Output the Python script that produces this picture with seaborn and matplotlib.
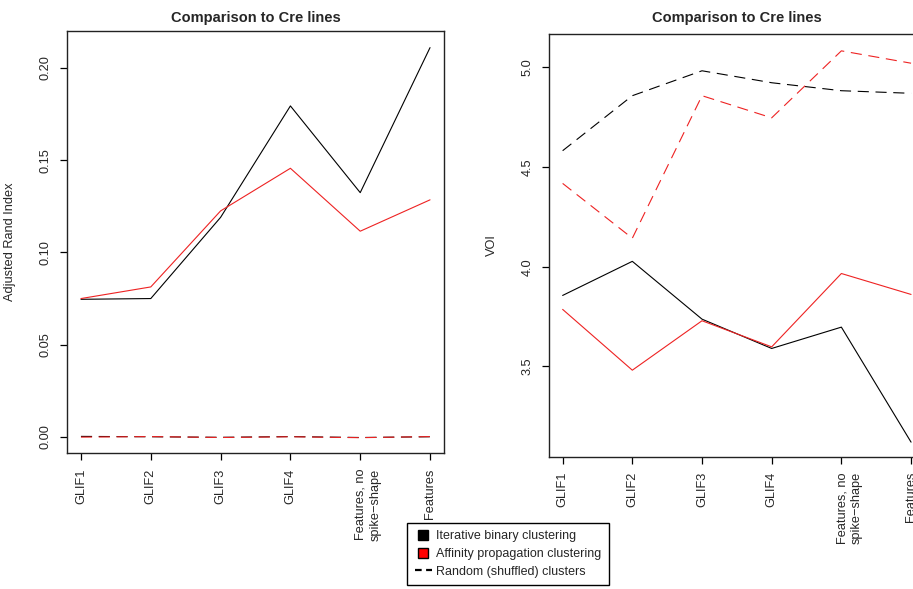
import numpy as np
import pandas as pd
import matplotlib
matplotlib.use("Agg")
import matplotlib.pyplot as plt
import matplotlib.transforms as mtransforms
from matplotlib.lines import Line2D
import seaborn as sns

# --- Data ---
categories = ["GLIF1", "GLIF2", "GLIF3", "GLIF4", "Features, no\nspike\u2212shape", "Features"]

ari_binary = [0.0746, 0.0750, 0.1190, 0.1794, 0.1324, 0.2110]
ari_affinity = [0.0750, 0.0813, 0.1225, 0.1456, 0.1115, 0.1285]
ari_binary_shuffled = [0.0003, 0.0001, -0.0002, 0.0002, -0.0003, 0.0001]
ari_affinity_shuffled = [-0.0001, 0.0002, -0.0003, 0.0001, -0.0004, 0.0002]

voi_binary = [3.856, 4.027, 3.737, 3.590, 3.697, 3.120]
voi_affinity = [3.786, 3.481, 3.729, 3.598, 3.966, 3.861]
voi_binary_shuffled = [4.582, 4.858, 4.983, 4.923, 4.883, 4.870]
voi_affinity_shuffled = [4.418, 4.143, 4.858, 4.747, 5.083, 5.021]

methods = ["Iterative binary clustering", "Affinity propagation clustering"]
legend_labels = methods + ["Random (shuffled) clusters"]


def long_frame(binary, affinity, binary_sh, affinity_sh):
    pos = np.arange(1, len(categories) + 1)
    parts = []
    for method, kind, vals in [
        (methods[0], "real", binary),
        (methods[1], "real", affinity),
        (methods[0], "shuffled", binary_sh),
        (methods[1], "shuffled", affinity_sh),
    ]:
        parts.append(pd.DataFrame({"pos": pos, "value": vals, "method": method,
                                   "kind": kind, "run": method + kind}))
    return pd.concat(parts, ignore_index=True)


ari_df = long_frame(ari_binary, ari_affinity, ari_binary_shuffled, ari_affinity_shuffled)
voi_df = long_frame(voi_binary, voi_affinity, voi_binary_shuffled, voi_affinity_shuffled)

sns.set_style("ticks")
plt.rcParams["font.family"] = ["Liberation Sans", "DejaVu Sans"]

palette = {methods[0]: "black", methods[1]: "#ee2222"}
dash_map = {"real": "", "shuffled": (10, 6)}
fs = 9.2

fig = plt.figure(figsize=(9.13, 5.89), dpi=100)
W, H = 913, 589
ax1 = fig.add_axes([67 / W, 1 - 453 / H, (444 - 67) / W, (453 - 31) / H])
ax2 = fig.add_axes([548.7 / W, 1 - 456.7 / H, (925 - 548.7) / W, (456.7 - 34.3) / H])

for ax, df, ylabel, ylim, yticks, fmt, tpad in [
    (ax1, ari_df, "Adjusted Rand Index", (-0.0087, 0.220), [0.0, 0.05, 0.10, 0.15, 0.20], "{:.2f}", 6.3),
    (ax2, voi_df, "VOI", (3.047, 5.166), [3.5, 4.0, 4.5, 5.0], "{:.1f}", 9.0),
]:
    sns.lineplot(data=df, x="pos", y="value", hue="method", style="kind",
                 units="run", estimator=None, palette=palette, dashes=dash_map,
                 linewidth=0.8, legend=False, ax=ax)
    ax.set_xlim(0.8, 6.2)
    ax.set_ylim(*ylim)
    ax.tick_params(axis="both", direction="out", length=5, width=0.9, color="black", pad=6)
    ax.set_xticks(np.arange(1, len(categories) + 1))
    labels = ax.set_xticklabels(categories, rotation=90, va="top", ha="center",
                                fontsize=fs, linespacing=1.3)
    # R puts the first line of a two-line label on the tick
    shift = mtransforms.ScaledTranslation(0.08, 0, fig.dpi_scale_trans)
    labels[4].set_transform(labels[4].get_transform() + shift)
    ax.set_yticks(yticks)
    ax.set_yticklabels([fmt.format(v) for v in yticks], rotation=90, va="center",
                       fontsize=fs)
    ax.set_xlabel("")
    ax.set_ylabel(ylabel, fontsize=fs)
    ax.yaxis.set_label_coords(-0.135, 0.5)
    ax.set_title("Comparison to Cre lines", fontsize=10.5, fontweight="bold", pad=tpad)
    for s in ax.spines.values():
        s.set_visible(True)
        s.set_color("#222222")
        s.set_linewidth(1.0)

handles = [
    Line2D([], [], marker="s", markersize=7, color="black", markerfacecolor="black",
           markeredgecolor="black", linestyle="none"),
    Line2D([], [], marker="s", markersize=7, color="red", markerfacecolor="red",
           markeredgecolor="black", linestyle="none"),
    Line2D([], [], color="black", linestyle=(0, (3, 2)), linewidth=1.6),
]
leg = fig.legend(handles, legend_labels, loc="upper left",
                 bbox_to_anchor=(407 / W, 1 - 523 / H), frameon=True, fancybox=False,
                 edgecolor="black", framealpha=1, fontsize=9.0, handlelength=1.4,
                 handletextpad=0.35, borderpad=0.6, labelspacing=0.45, borderaxespad=0)
leg.get_frame().set_linewidth(1.0)

fig.savefig("out.png", dpi=100)
